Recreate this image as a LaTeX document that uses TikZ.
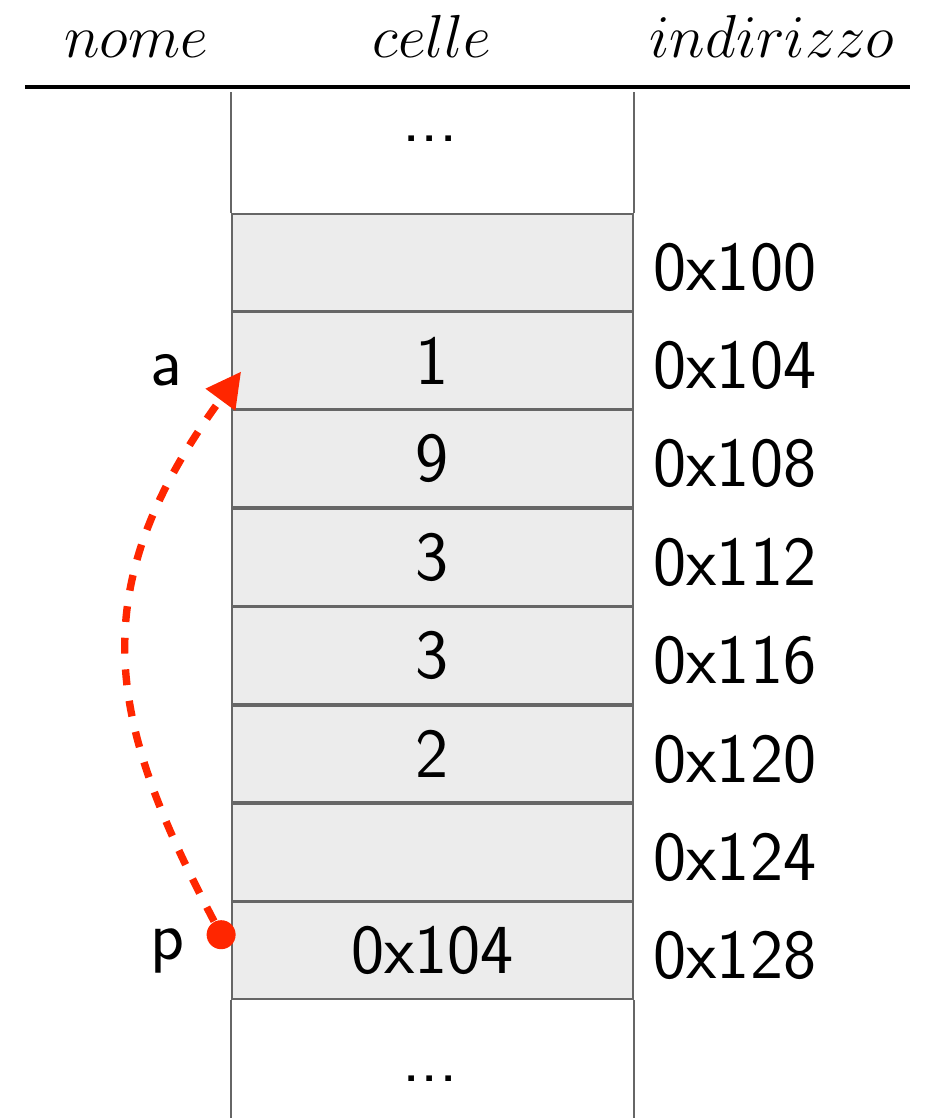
\documentclass[tikz,border=0pt]{standalone}
\usepackage{xcolor}
\usepackage{tikz}
\usetikzlibrary{arrows.meta,positioning}

\definecolor{ptrred}{RGB}{255,38,0}
\definecolor{cellgray}{RGB}{236,236,236}

\begin{document}
\begin{tikzpicture}[
    cell/.style={draw=black!60, fill=cellgray, line width=0.5pt, minimum width=4.01cm, minimum height=0.966cm,
                 inner sep=0pt, font=\sffamily\fontsize{20}{22}\selectfont},
    addr/.style={inner sep=0pt, font=\sffamily\fontsize{20}{22}\selectfont},
    vname/.style={inner sep=0pt, font=\sffamily\fontsize{20}{22}\selectfont},
    gapdots/.style={anchor=base, inner sep=0pt, font=\sffamily\fontsize{20}{22}\selectfont},
    head/.style={anchor=base, inner sep=0pt, font=\fontsize{17}{20}\selectfont},
    gapline/.style={draw=black!60, line width=0.5pt},
    ptr/.style={-{Triangle[length=0.35cm,width=0.35cm]}, draw=ptrred, line width=2.1pt,
                dash pattern=on 4.5pt off 4.5pt},
    ptrdot/.style={circle, fill=ptrred, minimum size=0.29cm, inner sep=0pt},
]
\useasboundingbox (0,0) rectangle (9.24,-11.18);

% ── Header ──
\node[head] (hname) at (1.36,-0.58) {$nome$};
\node[head] (hcells) at (4.32,-0.58) {$celle$};
\node[head] (haddr) at (7.72,-0.58) {$indirizzo$};
\draw[line width=0.9pt] (0.25,-0.87) -- (9.10,-0.87);

% ── Memory cells ──
\node[cell, anchor=north] (c0) at (4.325,-2.13) {};
\node[cell, below=0pt of c0] (c1) {1};
\node[cell, below=0pt of c1] (c2) {9};
\node[cell, below=0pt of c2] (c3) {3};
\node[cell, below=0pt of c3] (c4) {3};
\node[cell, below=0pt of c4] (c5) {2};
\node[cell, below=0pt of c5] (c6) {};
\node[cell, below=0pt of c6] (c7) {0x104};

% ── Open ends ──
\draw[gapline] (c0.north west) -- ++(0,1.21);
\draw[gapline] (c0.north east) -- ++(0,1.21);
\draw[gapline] (c7.south west) -- ++(0,-1.3);
\draw[gapline] (c7.south east) -- ++(0,-1.3);
\node[gapdots] (topdots) at (4.30,-1.42) {...};
\node[gapdots] (botdots) at (4.30,-10.81) {...};

% ── Addresses ──
\node[addr, right=0.19cm of c0, yshift=-0.05cm] (a0) {0x100};
\node[addr, right=0.19cm of c1, yshift=-0.05cm] (a1) {0x104};
\node[addr, right=0.19cm of c2, yshift=-0.05cm] (a2) {0x108};
\node[addr, right=0.19cm of c3, yshift=-0.05cm] (a3) {0x112};
\node[addr, right=0.19cm of c4, yshift=-0.05cm] (a4) {0x116};
\node[addr, right=0.19cm of c5, yshift=-0.05cm] (a5) {0x120};
\node[addr, right=0.19cm of c6, yshift=-0.05cm] (a6) {0x124};
\node[addr, right=0.19cm of c7, yshift=-0.05cm] (a7) {0x128};

% ── Variable names ──
\node[vname, left=0.48cm of c1, yshift=-0.1cm] (va) {a};
\node[vname, left=0.46cm of c7] (vp) {p};

% ── Pointer ──
\node[ptrdot] (pdot) at ([xshift=-0.1cm,yshift=0.16cm]c7.west) {};
\draw[ptr] (pdot) .. controls +(-1.09,2.08) and +(-1.65,-2.24) .. ([xshift=0.1cm,yshift=-0.11cm]c1.west);

\end{tikzpicture}
\end{document}
